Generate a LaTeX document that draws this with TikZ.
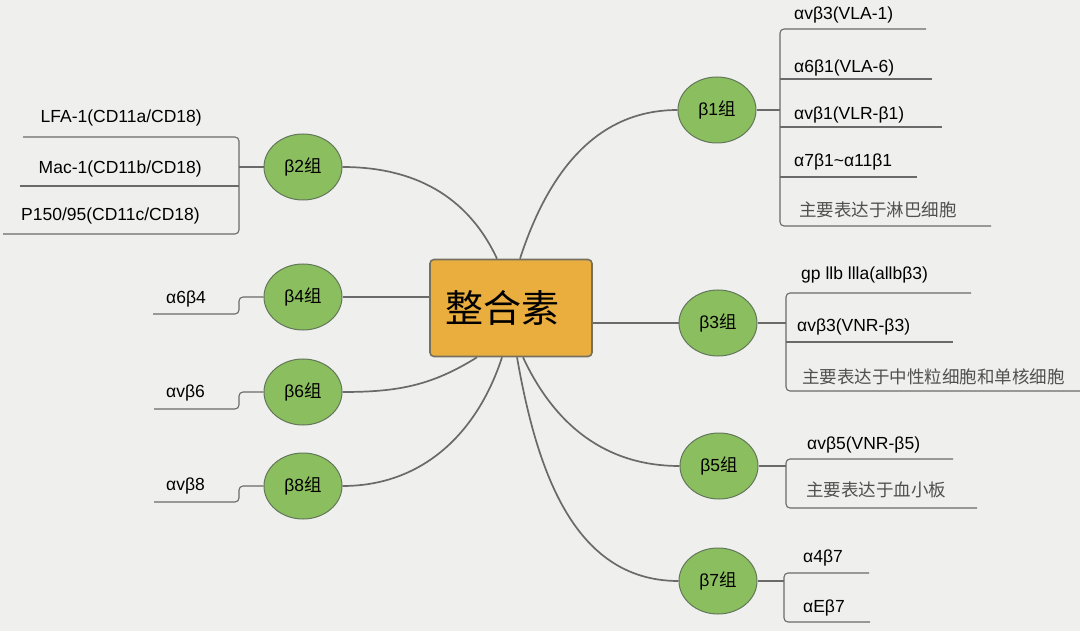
\documentclass[tikz,border=0pt]{standalone}
\usepackage{fontspec}
\setmainfont{Liberation Sans}
\newfontfamily\cjk{Noto Sans CJK SC}
\usetikzlibrary{shapes.geometric}

\definecolor{paper}{HTML}{EFEFED}
\definecolor{rootfill}{HTML}{EAAE3E}
\definecolor{rootline}{HTML}{76705F}
\definecolor{groupfill}{HTML}{8BBE5E}
\definecolor{groupline}{HTML}{62775A}
\definecolor{linkgray}{HTML}{6A6A6A}
\definecolor{notegray}{HTML}{505050}

\tikzset{
    root/.style={rectangle, rounded corners=4pt, draw=rootline, fill=rootfill, line width=1.6pt,
        minimum width=162pt, minimum height=97pt, font=\cjk\fontsize{38}{44}\selectfont},
    group/.style={ellipse, draw=groupline, fill=groupfill, line width=1pt, inner sep=0pt,
        minimum width=78pt, minimum height=66pt, font=\fontsize{17.5}{20}\selectfont},
    item/.style={anchor=west, inner sep=0pt, font=\fontsize{17.5}{20}\selectfont},
    itemr/.style={item, anchor=east},
    note/.style={item, text=notegray, font=\cjk\fontsize{17.5}{20}\selectfont},
    link/.style={draw=linkgray, line width=1.7pt},
    rail/.style={draw=linkgray, line width=1.1pt, rounded corners=4pt},
}

\begin{document}
\begin{tikzpicture}[x=1pt, y=1pt]

    % Background
    \fill [paper] (0, 0) rectangle (1080, -631);
    \useasboundingbox (0, 0) rectangle (1080, -631);

    % Root
    \node [root] (core) at (511, -308) {\raisebox{-4pt}{整合素}\hspace*{18pt}};

    % Groups
    \node [group] (b1) at (717, -110) {β1{\cjk 组}};
    \node [group] (b2) at (303, -167) {β2{\cjk 组}};
    \node [group] (b3) at (718, -323) {β3{\cjk 组}};
    \node [group] (b4) at (303, -297) {β4{\cjk 组}};
    \node [group] (b5) at (719, -466) {β5{\cjk 组}};
    \node [group] (b6) at (303, -392) {β6{\cjk 组}};
    \node [group] (b7) at (718, -581) {β7{\cjk 组}};
    \node [group] (b8) at (303, -486) {β8{\cjk 组}};

    % Links from the root
    \draw [link] (b2.east) to [out=0, in=115] ([xshift=-14pt]core.north);
    \draw [link] ([xshift=9pt]core.north) to [out=72, in=180] (b1.west);
    \draw [link] (b4.east) -- (core.west |- b4.east);
    \draw [link] (core.east |- b3.west) -- (b3.west);
    \draw [link] (b6.east) to [out=0, in=-148] ([xshift=-34pt]core.south);
    \draw [link] (b8.east) to [out=0, in=-108] ([xshift=-9pt]core.south);
    \draw [link] ([xshift=12pt]core.south) to [out=-65, in=180] (b5.west);
    \draw [link] ([xshift=6pt]core.south) to [out=-80, in=180] (b7.west);

    % Rail junctions
    \coordinate (j1) at (780, -110);
    \coordinate (j2) at (239, -167);
    \coordinate (j3) at (786, -323);
    \coordinate (j4) at (239, -297);
    \coordinate (j5) at (786, -466);
    \coordinate (j6) at (239, -392);
    \coordinate (j7) at (784, -581);
    \coordinate (j8) at (239, -486);

    %% beta 1
    \draw [rail] (b1.east) -- (j1);
    \draw [rail] (926, -29) -- (780, -29) -- (780, -226) -- (991, -226);
    \draw [rail] (780, -79) -- (932, -79);
    \draw [rail] (780, -127) -- (942, -127);
    \draw [rail] (780, -177) -- (917, -177);
    \node [item] (m11) at (794, -15) {αvβ3(VLA-1)};
    \node [item] (m12) at (794, -68) {α6β1(VLA-6)};
    \node [item] (m13) at (794, -115) {αvβ1(VLR-β1)};
    \node [item] (m14) at (794, -162) {α7β1\textasciitilde α11β1};
    \node [note] (m15) at (799, -210) {主要表达于淋巴细胞};

    %% beta 2
    \draw [rail] (b2.west) -- (j2);
    \draw [rail] (23, -137) -- (239, -137) -- (239, -234) -- (3, -234);
    \draw [rail] (20, -186) -- (239, -186);
    \node [itemr] (m21) at (202, -118) {LFA-1(CD11a/CD18)};
    \node [itemr] (m22) at (202, -169) {Mac-1(CD11b/CD18)};
    \node [itemr] (m23) at (200, -216) {P150/95(CD11c/CD18)};

    %% beta 3
    \draw [rail] (b3.east) -- (j3);
    \draw [rail] (971, -293) -- (786, -293) -- (786, -391) -- (1080, -391);
    \draw [rail] (786, -342) -- (953, -342);
    \node [item] (m31) at (801, -275) {gp llb llla(allbβ3)};
    \node [item] (m32) at (797, -327) {αvβ3(VNR-β3)};
    \node [note] (m33) at (802, -377) {主要表达于中性粒细胞和单核细胞};

    %% beta 4, 6, 8
    \draw [rail] (153, -314) -- (239, -314) -- (j4) -- (b4.west);
    \draw [rail] (154, -409) -- (239, -409) -- (j6) -- (b6.west);
    \draw [rail] (154, -502) -- (239, -502) -- (j8) -- (b8.west);
    \node [item] (m41) at (166, -299) {α6β4};
    \node [item] (m61) at (166, -393) {αvβ6};
    \node [item] (m81) at (166, -486) {αvβ8};

    %% beta 5
    \draw [rail] (b5.east) -- (j5);
    \draw [rail] (953, -459) -- (786, -459) -- (786, -508) -- (977, -508);
    \node [item] (m51) at (807, -445) {αvβ5(VNR-β5)};
    \node [note] (m52) at (806, -490) {主要表达于血小板};

    %% beta 7
    \draw [rail] (b7.east) -- (j7);
    \draw [rail] (869, -573) -- (784, -573) -- (784, -622) -- (870, -622);
    \node [item] (m71) at (803, -558) {α4β7};
    \node [item] (m72) at (803, -608) {αEβ7};

\end{tikzpicture}
\end{document}
